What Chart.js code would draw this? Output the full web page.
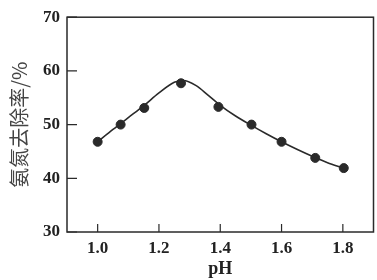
<!DOCTYPE html>
<html>
<head>
<meta charset="utf-8">
<script src="https://cdn.jsdelivr.net/npm/chart.js@4"></script>
<style>
  html, body { margin: 0; padding: 0; background: #fff; overflow: hidden; }
  #wrap { width: 379px; height: 280px; }
</style>
</head>
<body>
<div id="wrap"><canvas id="c"></canvas></div>
<script>
// measured points
const phPoints = [1.0, 1.075, 1.152, 1.272, 1.394, 1.502, 1.6, 1.71, 1.803];
const removal = [46.8, 50.0, 53.1, 57.7, 53.3, 50.0, 46.8, 43.8, 41.9];

// fitted curve
const phCurve = [1.0, 1.05, 1.1, 1.15, 1.2, 1.25, 1.28, 1.32, 1.36, 1.4, 1.45, 1.5, 1.55, 1.6, 1.65, 1.7, 1.75, 1.8];
const removalCurve = [46.8, 49.1, 51.3, 53.5, 55.9, 57.9, 58.2, 57.3, 55.5, 53.6, 51.6, 49.9, 48.3, 46.8, 45.4, 44.1, 42.9, 41.9];

const xTicks = [1.0, 1.2, 1.4, 1.6, 1.8];
const yTicks = [30, 40, 50, 60, 70];

const ink = '#2a2a2a';

const frame = {
  id: 'frame',
  afterDraw(chart) {
    const { ctx, chartArea: a, scales } = chart;
    ctx.save();
    ctx.strokeStyle = ink;
    ctx.lineWidth = 1.5;
    ctx.strokeRect(a.left, a.top, a.right - a.left, a.bottom - a.top);
    ctx.lineWidth = 1.2;
    ctx.beginPath();
    scales.x.ticks.forEach((t, i) => {
      const x = scales.x.getPixelForTick(i);
      ctx.moveTo(x, a.bottom);
      ctx.lineTo(x, a.bottom - 8);
    });
    scales.y.ticks.forEach((t, i) => {
      const y = scales.y.getPixelForTick(i);
      ctx.moveTo(a.left, y);
      ctx.lineTo(a.left + 10, y);
    });
    ctx.stroke();
    ctx.restore();
  }
};

new Chart(document.getElementById('c'), {
  type: 'scatter',
  data: {
    datasets: [{
      data: phCurve.map((x, i) => ({ x, y: removalCurve[i] })),
      showLine: true,
      borderColor: ink,
      borderWidth: 1.6,
      pointRadius: 0,
      tension: 0.4,
      cubicInterpolationMode: 'monotone'
    }, {
      data: phPoints.map((x, i) => ({ x, y: removal[i] })),
      showLine: false,
      pointRadius: 4.5,
      pointBackgroundColor: ink,
      pointBorderColor: ink
    }]
  },
  options: {
    responsive: true,
    maintainAspectRatio: false,
    animation: false,
    layout: { padding: { top: 13, right: 1, left: 0, bottom: 0 } },
    plugins: { legend: { display: false }, tooltip: { enabled: false } },
    scales: {
      x: {
        type: 'linear',
        min: 0.9,
        max: 1.9,
        afterBuildTicks: s => { s.ticks = xTicks.map(v => ({ value: v })); },
        afterFit: s => { s.height = 48; },
        grid: { display: false, drawTicks: false },
        border: { display: false },
        ticks: {
          padding: 6,
          color: '#222',
          font: { family: 'Liberation Serif', size: 17, weight: 'bold' },
          callback: v => v.toFixed(1)
        },
        title: {
          display: true,
          text: 'pH',
          color: '#222',
          padding: { top: 0, bottom: 0 },
          font: { family: 'Liberation Serif', size: 18, weight: 'bold' }
        }
      },
      y: {
        min: 30,
        max: 70,
        afterBuildTicks: s => { s.ticks = yTicks.map(v => ({ value: v })); },
        afterFit: s => { s.width = 67; },
        grid: { display: false, drawTicks: false },
        border: { display: false },
        ticks: {
          padding: 7,
          color: '#222',
          font: { family: 'Liberation Serif', size: 17, weight: 'bold' }
        },
        title: {
          display: true,
          text: '氨氮去除率/%',
          color: '#444',
          padding: { top: 7, bottom: 0 },
          font: { family: 'Noto Sans CJK SC', size: 20 }
        }
      }
    }
  },
  plugins: [frame]
});
</script>
</body>
</html>
